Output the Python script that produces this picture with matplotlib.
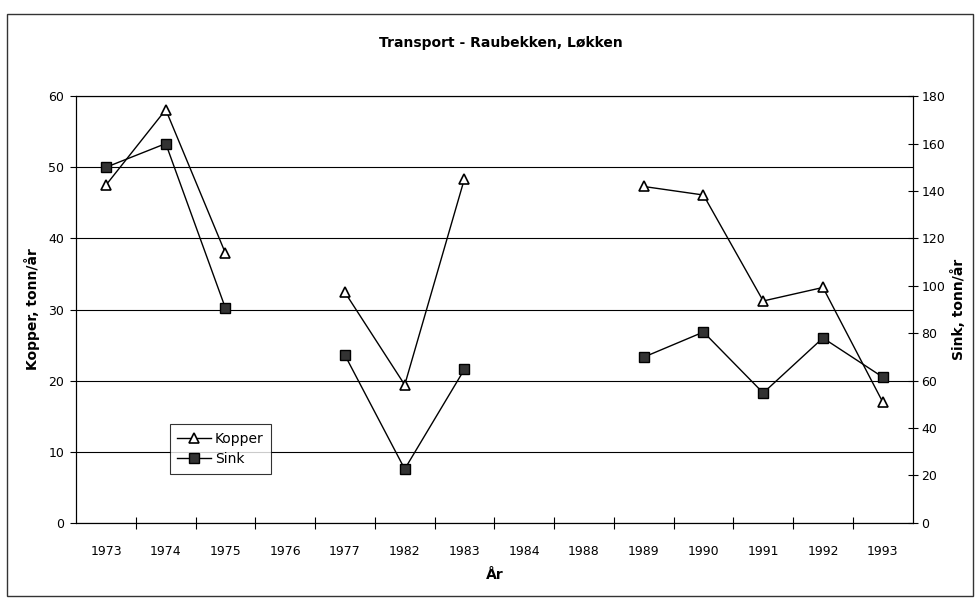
import numpy as np
import matplotlib
matplotlib.use('Agg')
import matplotlib.pyplot as plt
from matplotlib.patches import Rectangle

YEARS = ['1973', '1974', '1975', '1976', '1977', '1982', '1983',
         '1984', '1988', '1989', '1990', '1991', '1992', '1993']
# tonn/år, nan = no measurement
KOPPER = [47.5, 58.1, 37.9, np.nan, 32.4, 19.4, 48.4,
          np.nan, np.nan, 47.3, 46.1, 31.2, 33.1, 17.0]
SINK = [150.0, 160.0, 90.5, np.nan, 70.7, 22.7, 64.8,
        np.nan, np.nan, 69.9, 80.5, 54.8, 78.0, 61.5]

plt.rcParams['font.family'] = ['DejaVu Sans']
plt.rcParams['font.size'] = 9


def main():
    fig = plt.figure(figsize=(9.76, 6.01), dpi=100)
    ax = fig.add_axes([0.078, 0.130, 0.857, 0.710])
    ax2 = ax.twinx()

    x = np.arange(len(YEARS))
    ln1, = ax.plot(x, KOPPER, color='black', lw=1, marker='^', ms=7,
                   mfc='white', mec='black', mew=1.2, label='Kopper')
    ln2, = ax2.plot(x, SINK, color='black', lw=1, marker='s', ms=7,
                    mfc='#333333', mec='black', mew=1, label='Sink')

    ax.set_xlim(-0.5, len(YEARS) - 0.5)
    ax.set_ylim(0, 60)
    ax2.set_ylim(0, 180)
    ax.set_yticks(range(0, 61, 10))
    ax2.set_yticks(range(0, 181, 20))

    # category boundaries as ticks, labels centred between them
    ax.set_xticks(np.arange(0.5, len(YEARS) - 1, 1))
    ax.set_xticklabels([])
    ax.set_xticks(x, minor=True)
    ax.set_xticklabels(YEARS, minor=True)
    ax.tick_params(axis='x', which='major', direction='inout', length=8, width=0.8)
    ax.tick_params(axis='x', which='minor', length=0, pad=16)
    ax.tick_params(axis='y', direction='out', length=4.5, width=0.8, pad=4)
    ax2.tick_params(axis='y', direction='inout', length=7, width=0.8, pad=3)

    ax.grid(axis='y', color='black', lw=0.8)
    ax.set_axisbelow(True)
    for sp in ax.spines.values():
        sp.set_linewidth(0.8)
    for sp in ax2.spines.values():
        sp.set_linewidth(0.8)

    ax.set_ylabel('Kopper, tonn/år', fontweight='bold', fontsize=10, labelpad=6)
    ax2.set_ylabel('Sink, tonn/år', fontweight='bold', fontsize=10, labelpad=4)
    ax.set_xlabel('År', fontweight='bold', fontsize=10, labelpad=7)

    fig.text(0.513, 0.928, 'Transport - Raubekken, Løkken', ha='center',
             va='center', fontsize=10, fontweight='bold')

    leg = ax2.legend([ln1, ln2], ['Kopper', 'Sink'], loc='lower left',
                     bbox_to_anchor=(0.112, 0.115), frameon=True,
                     fancybox=False, edgecolor='black', handlelength=2.4,
                     handletextpad=0.3, borderpad=0.55, labelspacing=0.45,
                     borderaxespad=0, fontsize=10)
    leg.get_frame().set_linewidth(0.8)

    fig.patches.append(Rectangle((0.007, 0.008), 0.99, 0.968, transform=fig.transFigure,
                                 fill=False, edgecolor='#333333', lw=1))

    fig.savefig('out.png', dpi=100)
    plt.close(fig)


if __name__ == '__main__':
    main()
